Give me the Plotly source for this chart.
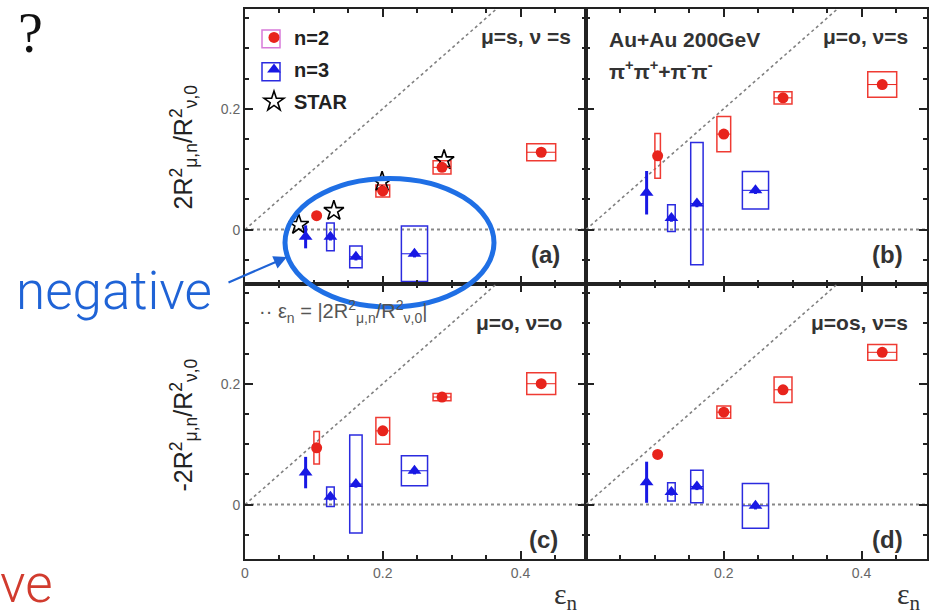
import plotly.graph_objects as go
from plotly.subplots import make_subplots

W, H = 939, 614
ML, MR, MT, MB = 245, 12, 7, 55

# ---------------- data ----------------
eps2 = [0.104, 0.200, 0.286, 0.430]
eps3 = [0.088, 0.124, 0.161, 0.246]
eps2_sys = [0.004, 0.010, 0.013, 0.021]
eps3_sys = [0.002, 0.0055, 0.009, 0.019]

eps_star = [0.078, 0.129, 0.199, 0.289]
star_a = [0.008, 0.031, 0.079, 0.115]

# (a) mu=s, nu=s
n2_a = [0.023, 0.064, 0.103, 0.128]
n2_a_sys = [0.004, 0.010, 0.011, 0.014]
n2_a_stat = [0.003, 0.004, 0.004, 0.004]
n3_a = [-0.012, -0.012, -0.045, -0.040]
n3_a_sys = [0.002, 0.023, 0.018, 0.046]
n3_a_stat = [0.019, 0.006, 0.006, 0.006]

# (b) mu=o, nu=s
n2_b = [0.122, 0.158, 0.218, 0.240]
n2_b_sys = [0.037, 0.029, 0.010, 0.021]
n2_b_stat = [0.004, 0.004, 0.004, 0.004]
n3_b = [0.061, 0.019, 0.043, 0.065]
n3_b_sys = [0.002, 0.022, 0.101, 0.031]
n3_b_stat = [0.036, 0.006, 0.006, 0.006]

# (c) mu=o, nu=o
n2_c = [0.094, 0.122, 0.178, 0.200]
n2_c_sys = [0.027, 0.022, 0.006, 0.018]
n2_c_stat = [0.004, 0.004, 0.004, 0.004]
n3_c = [0.053, 0.013, 0.034, 0.056]
n3_c_sys = [0.002, 0.016, 0.081, 0.025]
n3_c_stat = [0.026, 0.006, 0.006, 0.006]

# (d) mu=os, nu=s
n2_d = [0.083, 0.153, 0.190, 0.252]
n2_d_sys = [0.004, 0.010, 0.021, 0.013]
n2_d_stat = [0.004, 0.004, 0.004, 0.004]
n3_d = [0.037, 0.021, 0.030, -0.002]
n3_d_sys = [0.002, 0.015, 0.027, 0.037]
n3_d_stat = [0.034, 0.006, 0.006, 0.006]

x_tickvals = [0, 0.2, 0.4]
x_ticktext = ["0", "0.2", "0.4"]
y_tickvals = [0, 0.2]
y_ticktext = ["0", "0.2"]

panel_tags = ["(a)", "(b)", "(c)", "(d)"]
panel_mn = ["μ=s, ν =s", "μ=o, ν=s", "μ=o, ν=o", "μ=os, ν=s"]

RED = "#e8241c"
RED_BOX = "#ef3b33"
BLUE = "#1818e4"
BLUE_BOX = "#2b2bdf"
FONT = "Liberation Sans, Arial, sans-serif"

panels = [
    (1, 1, n2_a, n2_a_sys, n2_a_stat, n3_a, n3_a_sys, n3_a_stat),
    (1, 2, n2_b, n2_b_sys, n2_b_stat, n3_b, n3_b_sys, n3_b_stat),
    (2, 1, n2_c, n2_c_sys, n2_c_stat, n3_c, n3_c_sys, n3_c_stat),
    (2, 2, n2_d, n2_d_sys, n2_d_stat, n3_d, n3_d_sys, n3_d_stat),
]

fig = make_subplots(rows=2, cols=2, horizontal_spacing=0, vertical_spacing=0)

def px(x):
    return (x - ML) / (W - ML - MR)

def py(y):
    return (H - MB - y) / (H - MT - MB)

shapes = []
for k, (r, c, v2, s2, e2, v3, s3, e3) in enumerate(panels):
    suf = "" if k == 0 else str(k + 1)
    xr, yr = "x" + suf, "y" + suf
    # reference lines
    shapes.append(dict(type="line", xref=xr, yref=yr, x0=0, y0=0, x1=0.5, y1=0.5,
                       line=dict(color="#808080", width=1.6, dash="3px,3px"), layer="below"))
    shapes.append(dict(type="line", xref=xr, yref=yr, x0=0, y0=0, x1=0.5, y1=0,
                       line=dict(color="#888", width=2, dash="3px,3px"), layer="below"))
    # systematic boxes
    for i in range(len(eps2)):
        shapes.append(dict(type="rect", xref=xr, yref=yr,
                           x0=eps2[i] - eps2_sys[i], x1=eps2[i] + eps2_sys[i],
                           y0=v2[i] - s2[i], y1=v2[i] + s2[i],
                           line=dict(color=RED_BOX, width=1.5), layer="below"))
    for i in range(len(eps3)):
        shapes.append(dict(type="rect", xref=xr, yref=yr,
                           x0=eps3[i] - eps3_sys[i], x1=eps3[i] + eps3_sys[i],
                           y0=v3[i] - s3[i], y1=v3[i] + s3[i],
                           line=dict(color=BLUE_BOX, width=1.5), layer="below"))
    show = (k == 0)
    if k == 0:
        fig.add_trace(go.Scatter(x=eps_star, y=star_a, mode="markers", name="<b>STAR</b>",
                                 legendrank=3, showlegend=True, legendgroup="s",
                                 marker=dict(symbol="star-open", size=15, color="black",
                                             line=dict(width=1.6, color="black"))), row=r, col=c)
    fig.add_trace(go.Scatter(x=eps2, y=v2, mode="markers", name="<b>n=2</b>", showlegend=show,
                             legendrank=1, legendgroup="n2",
                             marker=dict(symbol="circle", size=11, color=RED),
                             error_y=dict(type="data", array=e2, color=RED, thickness=1.5, width=0),
                             error_x=dict(type="data", array=eps2_sys, color=RED, thickness=1, width=0)),
                  row=r, col=c)
    fig.add_trace(go.Scatter(x=eps3, y=v3, mode="markers", name="<b>n=3</b>", showlegend=show,
                             legendrank=2, legendgroup="n3",
                             marker=dict(symbol="triangle-up", size=12, color=BLUE),
                             error_y=dict(type="data", array=e3, color=BLUE, thickness=3, width=0),
                             error_x=dict(type="data", array=eps3_sys, color=BLUE, thickness=1, width=0)),
                  row=r, col=c)

axis_common = dict(showline=True, linewidth=2, linecolor="#222", mirror="ticks",
                   ticks="inside", ticklen=8, tickwidth=1.5, tickcolor="#222",
                   showgrid=False, zeroline=False,
                   tickfont=dict(family=FONT, size=14, color="#666"))

for k, (r, c, *_rest) in enumerate(panels):
    xt = list(x_ticktext)
    if c == 2:
        xt[0] = ""
    fig.update_xaxes(range=[0, 0.495], tickvals=x_tickvals, ticktext=xt,
                     showticklabels=(r == 2),
                     minor=dict(dtick=0.05, tick0=0, ticks="inside", ticklen=4,
                                tickcolor="#222", showgrid=False),
                     **axis_common, row=r, col=c)
    fig.update_yaxes(range=[-0.09, 0.365], tickvals=y_tickvals, ticktext=y_ticktext,
                     showticklabels=(c == 1),
                     minor=dict(dtick=0.05, tick0=0, ticks="inside", ticklen=4,
                                tickcolor="#222", showgrid=False),
                     **axis_common, row=r, col=c)

annotations = []
tag_pos = [(545, 253), (887, 253), (543, 539), (887, 539)]
mn_pos = [(526, 35), (865, 35), (519, 322), (859, 322)]
for k in range(4):
    annotations.append(dict(xref="paper", yref="paper", x=px(tag_pos[k][0]), y=py(tag_pos[k][1]),
                            text="<b>" + panel_tags[k] + "</b>", showarrow=False,
                            font=dict(family=FONT, size=24, color="#333"),
                            xanchor="center", yanchor="middle"))
    annotations.append(dict(xref="paper", yref="paper", x=px(mn_pos[k][0]), y=py(mn_pos[k][1]),
                            text="<b>" + panel_mn[k] + "</b>", showarrow=False,
                            font=dict(family=FONT, size=21, color="#333"),
                            xanchor="center", yanchor="middle"))

annotations += [
    dict(xref="paper", yref="paper", x=px(607), y=py(38), text="<b>Au+Au 200GeV</b>",
         showarrow=False, font=dict(family=FONT, size=21, color="#333"),
         xanchor="left", yanchor="middle"),
    dict(xref="paper", yref="paper", x=px(607), y=py(68),
         text="<b>π<sup>+</sup>π<sup>+</sup>+π<sup>-</sup>π<sup>-</sup></b>",
         showarrow=False, font=dict(family=FONT, size=21, color="#333"),
         xanchor="left", yanchor="middle"),
    dict(xref="paper", yref="paper", x=px(257), y=py(311),
         text="·· ε<sub>n</sub> = |2R<sup>2</sup><sub>μ,n</sub>/R<sup>2</sup><sub>ν,0</sub>|",
         showarrow=False, font=dict(family=FONT, size=20, color="#555"),
         xanchor="left", yanchor="middle"),
    dict(xref="paper", yref="paper", x=px(184), y=py(146),
         text="2R<sup>2</sup><sub>μ,n</sub>/R<sup>2</sup><sub>ν,0</sub>", textangle=-90,
         showarrow=False, font=dict(family=FONT, size=25, color="#222"),
         xanchor="center", yanchor="middle"),
    dict(xref="paper", yref="paper", x=px(184), y=py(425),
         text="-2R<sup>2</sup><sub>μ,n</sub>/R<sup>2</sup><sub>ν,0</sub>", textangle=-90,
         showarrow=False, font=dict(family=FONT, size=25, color="#222"),
         xanchor="center", yanchor="middle"),
    dict(xref="paper", yref="paper", x=px(566), y=py(596), text="ε<sub>n</sub>",
         showarrow=False, font=dict(family="Liberation Serif, serif", size=30, color="#333"),
         xanchor="center", yanchor="middle"),
    dict(xref="paper", yref="paper", x=px(909), y=py(596), text="ε<sub>n</sub>",
         showarrow=False, font=dict(family="Liberation Serif, serif", size=30, color="#333"),
         xanchor="center", yanchor="middle"),
    dict(xref="paper", yref="paper", x=px(30), y=py(31), text="?",
         showarrow=False, font=dict(family="Liberation Serif, serif", size=56, color="#111"),
         xanchor="center", yanchor="middle"),
    dict(xref="paper", yref="paper", x=px(14), y=py(290), text="negative",
         showarrow=False, font=dict(family="Roboto, sans-serif", size=53, color="#1f63d6", weight=300),
         xanchor="left", yanchor="middle"),
    dict(xref="paper", yref="paper", x=px(-2), y=py(584), text="ve",
         showarrow=False, font=dict(family="Roboto, sans-serif", size=53, color="#d13b2e", weight=300),
         xanchor="left", yanchor="middle"),
    dict(xref="paper", yref="paper", x=px(287), y=py(256), ax=-60, ay=26, text="",
         showarrow=True, arrowhead=2, arrowsize=1.2, arrowwidth=2.2, arrowcolor="#1f63d6"),
]

shapes.append(dict(type="circle", xref="paper", yref="paper",
                   x0=px(285), x1=px(494), y0=py(306), y1=py(177),
                   line=dict(color="#1f6fe5", width=5), layer="above"))

# boxes around legend symbols
shapes.append(dict(type="rect", xref="paper", yref="paper",
                   x0=px(262), x1=px(280), y0=py(46), y1=py(28),
                   line=dict(color="#d77ad9", width=1.5), layer="above"))
shapes.append(dict(type="rect", xref="paper", yref="paper",
                   x0=px(262), x1=px(280), y0=py(79), y1=py(61),
                   line=dict(color=BLUE_BOX, width=1.5), layer="above"))

fig.update_layout(
    width=W, height=H,
    margin=dict(l=ML, r=MR, t=MT, b=MB),
    paper_bgcolor="white", plot_bgcolor="white",
    shapes=shapes, annotations=annotations,
    showlegend=True,
    legend=dict(x=px(254), y=py(16), xanchor="left", yanchor="top",
                bgcolor="rgba(0,0,0,0)", borderwidth=0, tracegroupgap=3,
                font=dict(family=FONT, size=20, color="#222")),
)

fig.write_html("out.html", config={"displayModeBar": False},
               post_script="document.body.style.margin='0px';")
